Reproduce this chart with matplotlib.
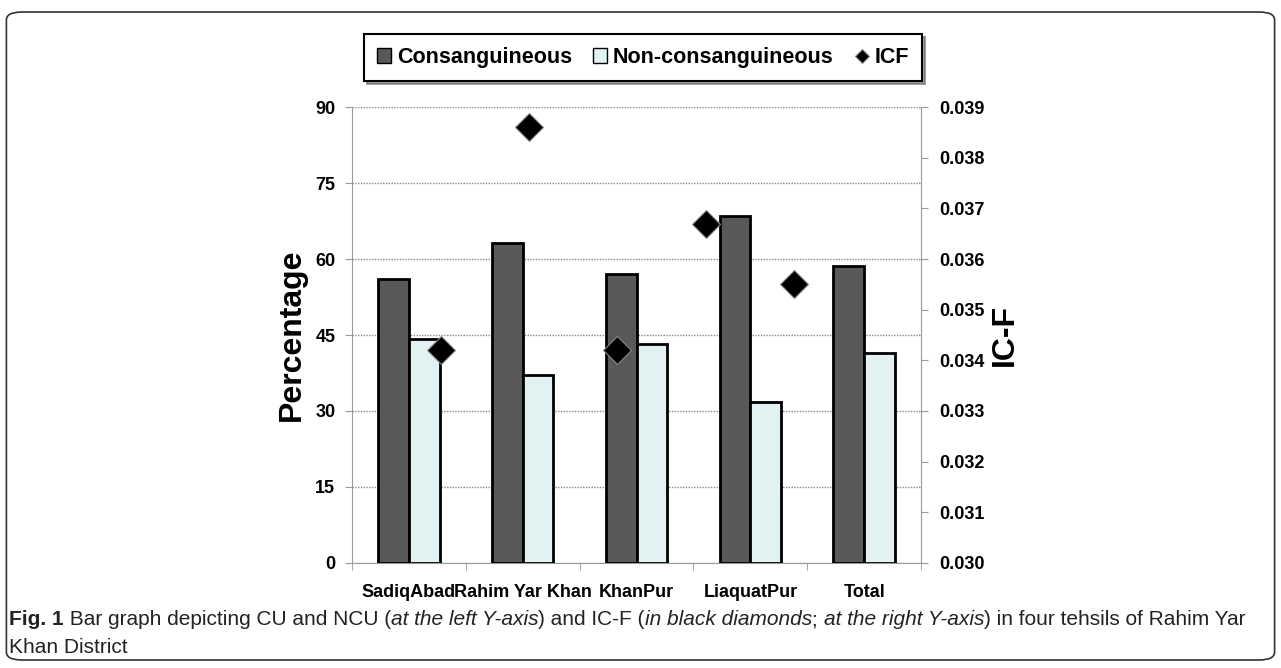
import matplotlib.pyplot as plt
import matplotlib.transforms as mtransforms
import numpy as np
from matplotlib.patches import FancyBboxPatch

categories = ['SadiqAbad', 'Rahim Yar Khan', 'KhanPur', 'LiaquatPur', 'Total']
consanguineous = [56.0, 63.2, 57.0, 68.5, 58.7]
non_consanguineous = [44.2, 37.1, 43.3, 31.7, 41.5]
icf = [0.0342, 0.0386, 0.0342, 0.0367, 0.0355]

left_ticks = [0, 15, 30, 45, 60, 75, 90]
right_ticks = [0.030, 0.031, 0.032, 0.033, 0.034, 0.035, 0.036, 0.037, 0.038, 0.039]

FONT = ['Liberation Sans', 'DejaVu Sans']
plt.rcParams['font.family'] = FONT

fig = plt.figure(figsize=(12.81, 6.68), dpi=100)
fig.patches.append(FancyBboxPatch((0.005, 0.012), 0.99, 0.97,
                                  boxstyle='round,pad=0,rounding_size=0.012',
                                  transform=fig.transFigure, fill=False,
                                  edgecolor='#333333', linewidth=1.2))

ax = fig.add_axes([0.2748, 0.1572, 0.4442, 0.6826])
x = np.arange(len(categories))
w = 0.27
ax.bar(x - w / 2, consanguineous, w, color='#595959', edgecolor='black',
       linewidth=2, zorder=3, label='Consanguineous')
ax.bar(x + w / 2, non_consanguineous, w, color='#e2f1f1', edgecolor='black',
       linewidth=2, zorder=3, label='Non-consanguineous')

ax.set_xlim(-0.5, len(categories) - 0.5)
ax.set_ylim(0, 90)
ax.set_yticks(left_ticks)
ax.set_xticks(x)
ax.set_xticklabels(categories, fontsize=13, fontweight='bold')
ax.set_xticks(np.arange(len(categories) + 1) - 0.5, minor=True)
ax.tick_params(axis='x', which='major', length=0, pad=15)
ax.tick_params(axis='x', which='minor', length=5, color='#999999', direction='out')
ax.tick_params(axis='y', length=5, color='#999999', labelsize=13, pad=7)
for lbl in ax.get_yticklabels():
    lbl.set_fontweight('bold')
ax.yaxis.grid(True, linestyle=(0, (1, 1)), color='#888888', linewidth=1)
ax.set_axisbelow(True)
for s in ['top', 'right']:
    ax.spines[s].set_visible(False)
for s in ['left', 'bottom']:
    ax.spines[s].set_color('#999999')
ax.set_ylabel('Percentage', fontsize=23, fontweight='bold', labelpad=6)

# secondary axis for ICF, points spaced on their own category scale
ax2 = ax.twinx()
icf_x = 0.28 + 0.776 * np.arange(len(icf))
ax2.plot(icf_x, icf, linestyle='none', marker='D', markersize=14,
         color='black', markeredgecolor='#888888', markeredgewidth=0.8,
         zorder=5, label='ICF')
ax2.set_ylim(0.030, 0.039)
ax2.set_yticks(right_ticks)
ax2.set_yticklabels([f'{t:.3f}' for t in right_ticks], fontsize=13,
                    fontweight='bold')
ax2.tick_params(axis='y', length=5, color='#999999', pad=8)
for s in ['top', 'left', 'bottom']:
    ax2.spines[s].set_visible(False)
ax2.spines['right'].set_color('#999999')
ax2.set_ylabel('IC-F', fontsize=23, fontweight='bold', labelpad=4)

h1, l1 = ax.get_legend_handles_labels()
h2, l2 = ax2.get_legend_handles_labels()
leg = fig.legend(h1 + h2, l1 + l2, loc='center', bbox_to_anchor=(0.502, 0.914),
                 ncol=3, frameon=True, fancybox=False, shadow=True,
                 handlelength=0.65, handleheight=0.65,
                 handletextpad=0.25, columnspacing=1.0, borderpad=0.6,
                 prop={'weight': 'bold', 'size': 15.5})
leg.get_frame().set_edgecolor('black')
leg.get_frame().set_linewidth(1.5)
for h in leg.legend_handles[:2]:
    h.set_linewidth(1)
leg.legend_handles[2].set_markersize(7)

# caption, pieces laid out one after another
line1 = [('Fig. 1', 'bold', 'normal'),
         (' Bar graph depicting CU and NCU (', 'normal', 'normal'),
         ('at the left Y-axis', 'normal', 'italic'),
         (') and IC-F (', 'normal', 'normal'),
         ('in black diamonds', 'normal', 'italic'),
         ('; ', 'normal', 'normal'),
         ('at the right Y-axis', 'normal', 'italic'),
         (') in four tehsils of Rahim Yar', 'normal', 'normal')]
cap_size = 15.0
pieces = [fig.text(0, 0, txt, fontsize=cap_size, fontweight=wt, fontstyle=st,
                   va='baseline', ha='left', color='#222222')
          for txt, wt, st in line1]
fig.canvas.draw()
r = fig.canvas.get_renderer()
xpos = 0.007 * fig.bbox.width
for t in pieces:
    t.set_transform(mtransforms.IdentityTransform())
    t.set_position((xpos, 0.064 * fig.bbox.height))
    xpos += t.get_window_extent(r).width
fig.text(0.007, 0.022, 'Khan District', fontsize=cap_size, va='baseline',
         ha='left', color='#222222')

fig.savefig('out.png', dpi=100)
